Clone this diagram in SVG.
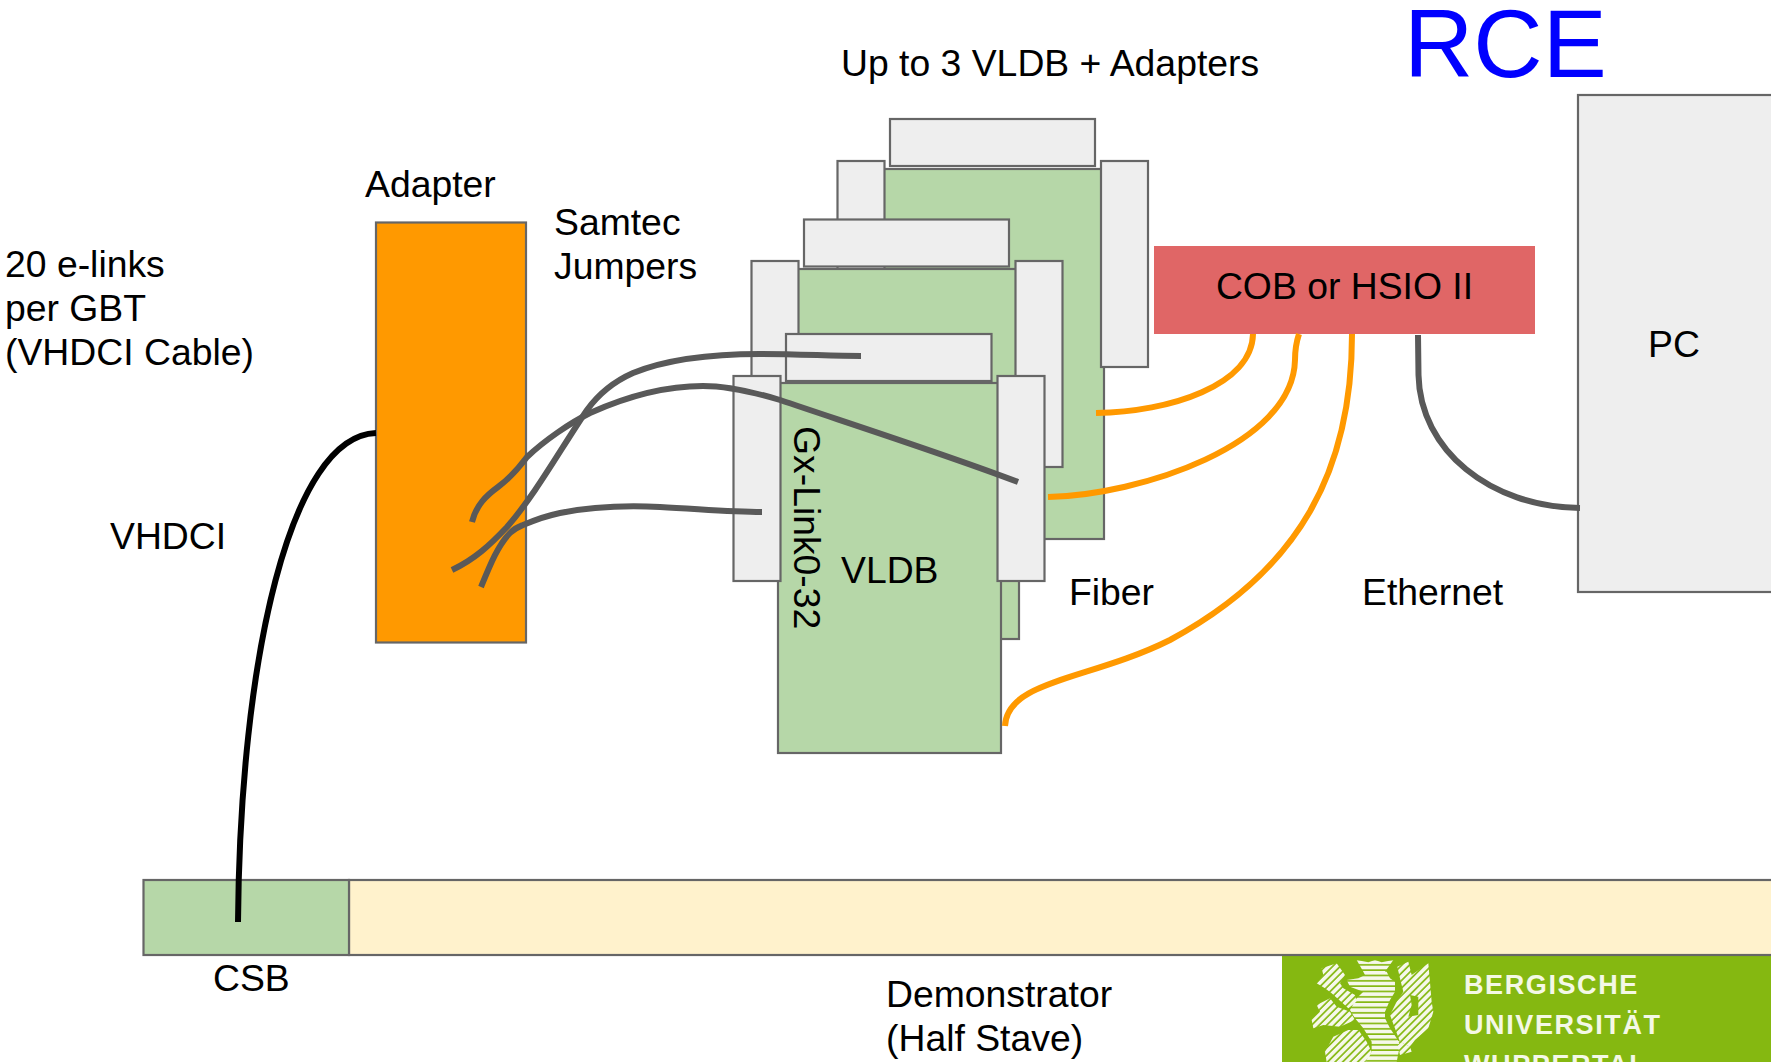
<svg xmlns="http://www.w3.org/2000/svg" width="1771" height="1062" viewBox="0 0 1771 1062">
<defs>
<style>
text{font-family:"Liberation Sans",Arial,sans-serif;font-size:37.33px;fill:#000}
.g{fill:#b6d7a8;stroke:#666;stroke-width:2.2}
.c{fill:#eee;stroke:#666;stroke-width:2.2}
.w{fill:none;stroke:#595959;stroke-width:6}
.f{fill:none;stroke:#f90;stroke-width:6}
.logo{font-size:27px;font-weight:bold;fill:#f4f8e6;letter-spacing:1.6px}
</style>
<pattern id="st" width="30" height="16" patternUnits="userSpaceOnUse"><rect width="30" height="11" fill="#f6f8ea"/></pattern>
<pattern id="sd" width="16" height="16" patternUnits="userSpaceOnUse" patternTransform="rotate(-45)"><rect width="16" height="11" fill="#f6f8ea"/></pattern>
</defs>
<rect width="1771" height="1062" fill="#fff"/>
<g id="logo-block">
<rect x="1282" y="956" width="489" height="106" fill="#85b811"/>
<g transform="translate(1300 955) scale(.3333)">
<path fill="url(#sd)" d="M65 40L110 25L135 60L120 85L130 100L165 120L170 140L145 160L95 115L75 100L50 85L70 60Z"/>
<path fill="url(#sd)" d="M50 150L90 130L110 155L150 170L165 195L120 215L70 210L40 220L35 195L60 170Z"/>
<path fill="url(#sd)" d="M75 290L100 245L145 225L175 225L200 260L215 290L200 321H80Z"/>
<path fill="url(#sd)" fill-rule="evenodd" d="M292 35L325 20L335 60L385 25L395 140L400 170L385 220L345 255L330 275L300 260L270 180L290 140L310 110L300 70ZM330 120L355 125L355 180L325 185L335 150Z"/>
<path fill="url(#sd)" d="M290 255L330 275L335 290L300 300Z"/>
<path fill="url(#st)" d="M170 15L205 22L225 15L245 22L280 15L255 50H260L270 70L285 80L285 110L270 135L255 170L255 190L270 220L290 250L300 270L290 321H195L215 290L215 260L190 220L165 190L150 165L170 130L190 110L150 95L140 75L175 70L195 60L190 50Z"/>
</g>
<text class="logo" x="1464" y="994">BERGISCHE</text>
<text class="logo" x="1464" y="1034">UNIVERSITÄT</text>
<text class="logo" x="1464" y="1074">WUPPERTAL</text>
</g>
<g id="demonstrator"><rect x="349" y="880" width="1430" height="75" fill="#fff2cc" stroke="#666" stroke-width="2.2"/></g>
<g id="csb"><rect class="g" x="143.500" y="880" width="205.500" height="75"/></g>
<g id="adapter"><rect x="376" y="222.500" width="150" height="420" fill="#f90" stroke="#666" stroke-width="2.2"/></g>
<g id="vldb-back">
<rect class="g" x="881" y="169" width="223" height="370"/>
<rect class="c" x="837.500" y="161" width="47" height="206"/>
<rect class="c" x="1101" y="161" width="47" height="206"/>
<rect class="c" x="890" y="119" width="205" height="47"/>
</g>
<g id="vldb-middle">
<rect class="g" x="796" y="269" width="223" height="370"/>
<rect class="c" x="751.500" y="261" width="47" height="206"/>
<rect class="c" x="1015.500" y="261" width="47" height="206"/>
<rect class="c" x="804" y="219.500" width="205" height="47"/>
</g>
<g id="vldb-front">
<rect class="g" x="778" y="383" width="223" height="370"/>
<rect class="c" x="733.500" y="376" width="47" height="205"/>
<rect class="c" x="997.500" y="376" width="47" height="205"/>
<rect class="c" x="786" y="334" width="205.500" height="47"/>
</g>
<g id="cob"><rect x="1154" y="246" width="381" height="88" fill="#e06666"/><text x="1344.500" y="299" text-anchor="middle">COB or HSIO II</text></g>
<g id="pc"><rect class="c" x="1578" y="95" width="210" height="497"/><text x="1674" y="357" text-anchor="middle">PC</text></g>
<g id="connectors">
<path d="M376 433C290 436 240 660 238 922" fill="none" stroke="#000" stroke-width="6"/>
<path class="w" d="M472 522C476 505 487 495 498 487C506 481 515 473 527 457C545 440 570 423 590 413C630 395 670 386 703 386C725 386 750 391 780 400C860 427 950 456 1018 482"/>
<path class="w" d="M452 570C475 559 490 545 507 527C535 495 560 450 587 410C600 392 615 381 633 373C670 358 715 354 760 354C800 354 830 356 861 356"/>
<path class="w" d="M481 587C490 565 498 545 510 533C515 528 518 527 523 525C535 520 545 516 560 513C590 507 620 505 660 507C700 509 730 512 762 512"/>
<path class="w" d="M1418 335L1418.500 375C1420 450 1490 507 1580 508"/>
<path class="f" d="M1096 413C1170 412 1252 385 1253 334"/>
<path class="f" d="M1048 497C1140 495 1293 445 1295 360C1295 348 1297 340 1299 334"/>
<path class="f" d="M1005 726C1007 680 1090 680 1170 640C1300 570 1352 470 1352 334"/>
</g>
<g id="labels">
<text x="841" y="76">Up to 3 VLDB + Adapters</text>
<text x="1404" y="76.500" style="font-size:96px;fill:#00f">RCE</text>
<text x="365" y="197">Adapter</text>
<text x="554" y="235">Samtec</text>
<text x="554" y="279">Jumpers</text>
<text x="5" y="277">20 e-links</text>
<text x="5" y="321">per GBT</text>
<text x="5" y="365">(VHDCI Cable)</text>
<text x="110" y="549">VHDCI</text>
<text x="841" y="583">VLDB</text>
<text x="1069" y="605">Fiber</text>
<text x="1362" y="605">Ethernet</text>
<text x="213" y="991">CSB</text>
<text x="886" y="1007">Demonstrator</text>
<text x="886" y="1051">(Half Stave)</text>
<text transform="translate(794 426) rotate(90)">Gx-Link0-32</text>
</g>
</svg>
